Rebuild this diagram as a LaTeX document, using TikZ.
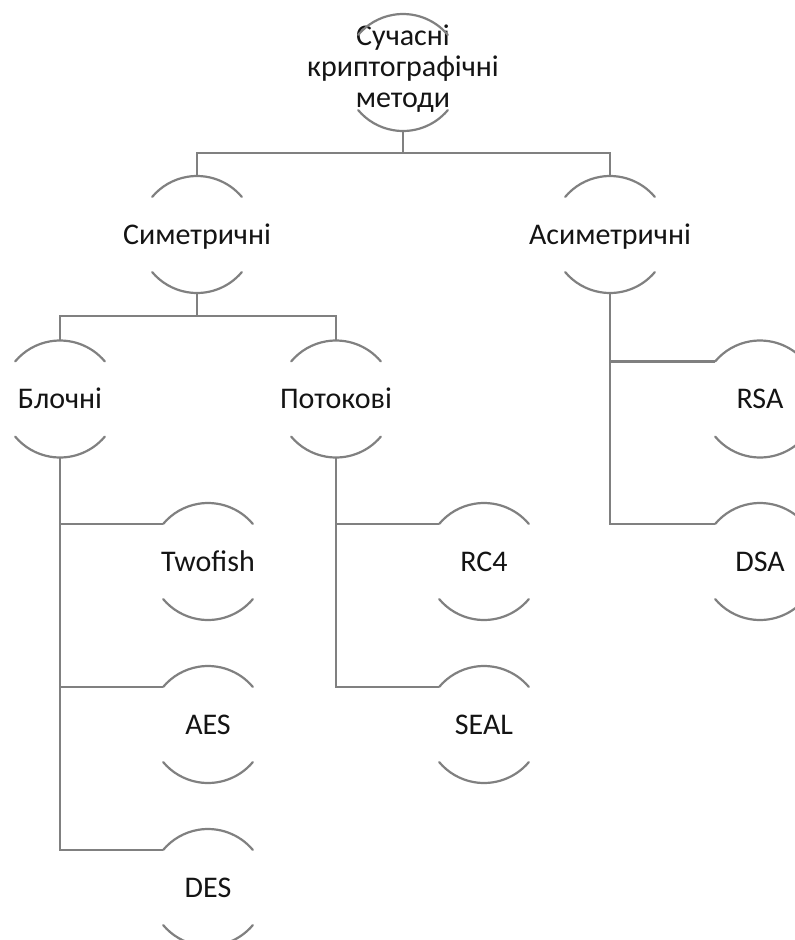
\documentclass[tikz,border=0pt]{standalone}
\usepackage{fontspec}
\setmainfont{Carlito}
\usetikzlibrary{calc}
\definecolor{linegray}{RGB}{128,128,128}
\definecolor{textdark}{RGB}{20,20,20}
% label set in a box of no width, so the circle keeps its size
\newcommand{\itemlabel}[1]{\makebox[0pt]{#1}}

\begin{document}
\begin{tikzpicture}[x=1pt,y=1pt,
  item/.style={circle, minimum size=117pt, inner sep=0pt, outer sep=0pt,
    font=\fontsize{30}{31}\selectfont, text=textdark,
    text height=19pt, text depth=0pt},
  rootitem/.style={circle, minimum size=117pt, inner sep=0pt, outer sep=0pt,
    font=\fontsize{30}{31}\selectfont, text=textdark,
    text height=51pt, text depth=42pt},
  arcline/.style={draw=linegray, line width=2.2pt, line cap=round},
  link/.style={draw=linegray, line width=2.2pt}]

\clip (0,0) rectangle (795,-940);

% nodes of the hierarchy
\node[rootitem] (top) at (403,-72.5)
  {\itemlabel{\begin{tabular}{@{}c@{}}Сучасні\\криптографічні\\методи\end{tabular}}};
\node[item] (sym)  at (197,-234.5) {\itemlabel{Симетричні}};
\node[item] (asym) at (610,-234.5) {\itemlabel{Асиметричні}};
\node[item] (blk)  at (60,-399)  {\itemlabel{Блочні}};
\node[item] (str)  at (336,-399) {\itemlabel{Потокові}};
\node[item] (twofish) at (208,-561.5) {\itemlabel{Twofish}};
\node[item] (aes)     at (208,-724.5) {\itemlabel{AES}};
\node[item] (des)     at (208,-887.5) {\itemlabel{DES}};
\node[item] (rc4)     at (484,-561.5) {\itemlabel{RC4}};
\node[item] (seal)    at (484,-724.5) {\itemlabel{SEAL}};
\node[item] (rsa)     at (760,-399)   {\itemlabel{RSA}};
\node[item] (dsa)     at (760,-561.5) {\itemlabel{DSA}};

% upper and lower arcs around every item
\foreach \n in {top,sym,asym,blk,str,twofish,aes,des,rc4,seal,rsa,dsa}{
  \draw[arcline] (\n.40) arc[start angle=40, end angle=140, radius=58.5pt];
  \draw[arcline] (\n.-40) arc[start angle=-40, end angle=-140, radius=58.5pt];
}

% connectors
\draw[link] (top.south) -- ++(0,-22) -| (sym.north);
\draw[link] (top.south) -- ++(0,-22) -| (asym.north);
\draw[link] (sym.south) -- ++(0,-23) -| (blk.north);
\draw[link] (sym.south) -- ++(0,-23) -| (str.north);
\draw[link] (blk.south) |- (twofish.140);
\draw[link] (blk.south) |- (aes.140);
\draw[link] (blk.south) |- (des.140);
\draw[link] (str.south) |- (rc4.140);
\draw[link] (str.south) |- (seal.140);
\draw[link] (asym.south) |- (rsa.140);
\draw[link] (asym.south) |- (dsa.140);
\end{tikzpicture}
\end{document}
